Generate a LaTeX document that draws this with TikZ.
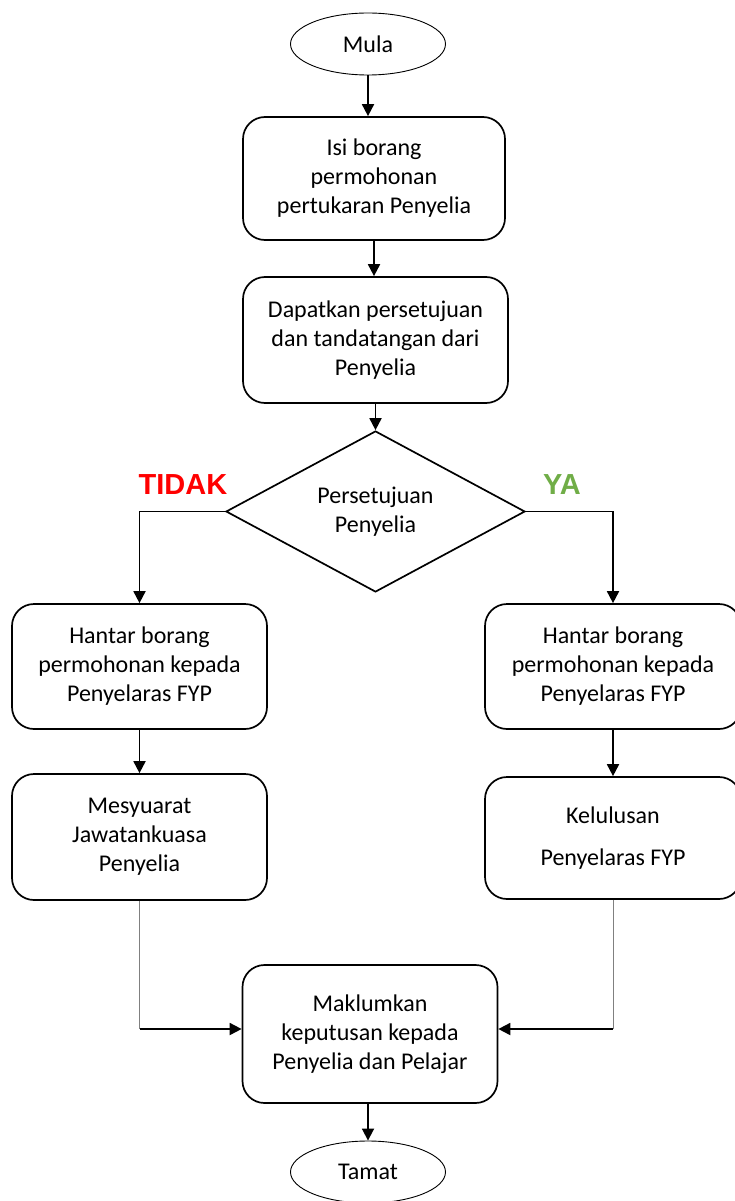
\documentclass[tikz,border=0pt]{standalone}
\usepackage{fontspec}
\setmainfont{Carlito}
\newfontfamily\labelfont{Liberation Sans}
\usetikzlibrary{shapes.geometric,arrows.meta}
\definecolor{tidakred}{RGB}{255,0,0}
\definecolor{yagreen}{RGB}{112,173,71}

\begin{document}
\begin{tikzpicture}[x=1pt, y=-1pt,
    bodyfont/.style={font=\fontsize{24}{29}\selectfont},
    stepbox/.style={draw, line width=1.7pt, rounded corners=22pt, minimum width=256pt, minimum height=125pt, align=center, bodyfont},
    terminal/.style={draw, ellipse, line width=0.9pt, minimum width=155pt, minimum height=62pt, bodyfont},
    decision/.style={draw, diamond, line width=1.7pt, minimum width=299pt, minimum height=161pt, inner sep=0pt, shape aspect=1.86, align=center, bodyfont},
    flowarrow/.style={-{Triangle[width=12pt,length=12pt]}, line width=1.8pt},
    greyline/.style={draw=gray, line width=1pt},
    answer/.style={font=\labelfont\bfseries\fontsize{29}{32}\selectfont}]
                    \useasboundingbox (0,0) rectangle (735,1201);
                    \node at (368,44) [terminal] (mula) {Mula};
                    \node at (374,178.5) [stepbox, minimum width=262pt, minimum height=123pt] (isi) {Isi borang\\permohonan\\pertukaran Penyelia};
                    \node at (375.5,340) [stepbox, minimum width=265pt, minimum height=126pt] (dapat) {Dapatkan persetujuan\\dan tandatangan dari\\Penyelia};
                    \node at (375.5,511.5) [decision] (setuju) {Persetujuan\\Penyelia};
                    \node at (183,485) [answer, text=tidakred] (tidak) {TIDAK};
                    \node at (562,485) [answer, text=yagreen] (ya) {YA};
                    \node at (139.5,666.5) [stepbox, minimum width=255pt] (hantarkiri) {Hantar borang\\permohonan kepada\\Penyelaras FYP};
                    \node at (613,666.5) [stepbox] (hantarkanan) {Hantar borang\\permohonan kepada\\Penyelaras FYP};
                    \node at (139.5,837) [stepbox, minimum width=255pt, minimum height=126pt] (mesyuarat) {Mesyuarat\\Jawatankuasa\\Penyelia};
                    \node at (613,838) [stepbox, minimum height=122pt] (lulus) {Kelulusan\\[13pt]Penyelaras FYP};
                    \node at (370,1034) [stepbox, minimum width=255pt, minimum height=138pt] (maklum) {Maklumkan\\keputusan kepada\\Penyelia dan Pelajar};
                    \node at (368,1172) [terminal] (tamat) {Tamat};
                    \draw [flowarrow] (mula) -- (mula |- isi.north);
                    \draw [flowarrow] (isi.south) -- (isi.south |- dapat.north);
                    \draw [flowarrow] (dapat) -- (setuju);
                    % both answers leave the diamond sideways and turn down
                    \draw [flowarrow] (setuju.west) -| (hantarkiri.north);
                    \draw [flowarrow] (setuju.east) -| (hantarkanan.north);
                    \draw [flowarrow] (hantarkiri) -- (mesyuarat);
                    \draw [flowarrow] (hantarkanan) -- (lulus);
                    \coordinate (masukkiri) at ([yshift=5pt]maklum.west);
                    \coordinate (masukkanan) at ([yshift=5pt]maklum.east);
                    \coordinate (kiri) at (mesyuarat.south |- masukkiri);
                    \coordinate (kanan) at (lulus.south |- masukkanan);
                    \draw [greyline] (mesyuarat.south) -- (kiri);
                    \draw [flowarrow] (kiri) -- (masukkiri);
                    \draw [greyline] (lulus.south) -- (kanan);
                    \draw [flowarrow] (kanan) -- (masukkanan);
                    \draw [flowarrow] (maklum.south -| tamat) -- (tamat);
\end{tikzpicture}
\end{document}
